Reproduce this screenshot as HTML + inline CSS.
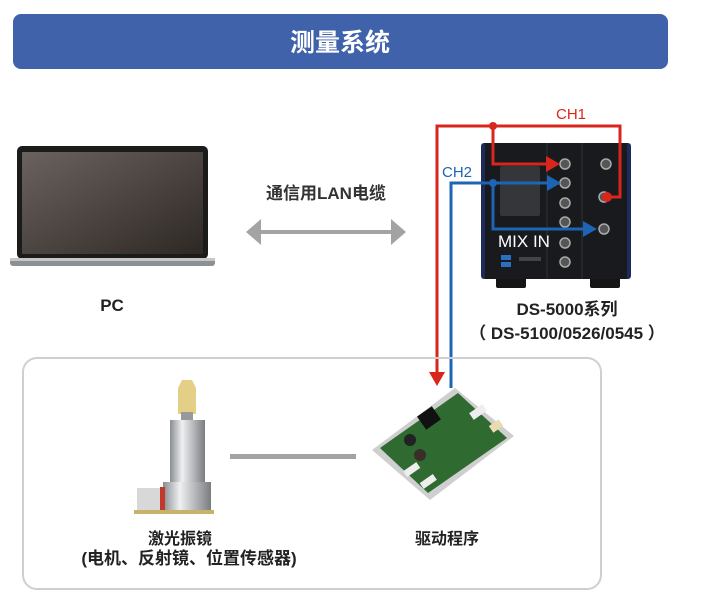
<!DOCTYPE html>
<html><head><meta charset="utf-8"><style>
body{margin:0;width:710px;height:600px;background:#fff;overflow:hidden}
svg text{font-family:"Liberation Sans","Noto Sans CJK SC",sans-serif}
</style></head><body>
<svg width="710" height="600" viewBox="0 0 710 600" xmlns="http://www.w3.org/2000/svg">
<defs>
<linearGradient id="scr" x1="0" y1="0" x2="1" y2="1"><stop offset="0" stop-color="#6a625e"/><stop offset="1" stop-color="#2e2825"/></linearGradient>
<linearGradient id="cyl" x1="0" y1="0" x2="1" y2="0"><stop offset="0" stop-color="#8a8d90"/><stop offset="0.35" stop-color="#eef0f2"/><stop offset="1" stop-color="#7a7d80"/></linearGradient>
</defs>
<rect x="13" y="14" width="655" height="55" rx="8" fill="#3f62aa"/>
<text x="340" y="51" font-size="25" font-weight="bold" fill="#fff" text-anchor="middle">测量系统</text>

<!-- laptop -->
<rect x="17" y="146" width="191" height="113" rx="5" fill="#1b1b1b"/>
<rect x="22" y="152" width="181" height="102" fill="url(#scr)"/>
<rect x="10" y="258" width="205" height="8" rx="3" fill="#8d9093"/>
<rect x="10" y="258" width="205" height="3" fill="#c4c6c8"/>
<text x="112" y="311" font-size="17" font-weight="bold" text-anchor="middle" fill="#222">PC</text>

<text x="326" y="199" font-size="17" font-weight="bold" text-anchor="middle" fill="#333">通信用LAN电缆</text>
<rect x="258" y="230" width="136" height="4" fill="#a3a3a3"/>
<polygon points="246,232 261,219 261,245" fill="#a3a3a3"/>
<polygon points="406,232 391,219 391,245" fill="#a3a3a3"/>

<!-- device -->
<rect x="496" y="276" width="30" height="12" rx="2" fill="#151515"/>
<rect x="590" y="276" width="30" height="12" rx="2" fill="#151515"/>
<rect x="481" y="143" width="150" height="136" rx="3" fill="#1e2a5a"/>
<rect x="485" y="143" width="142" height="136" fill="#181a1d"/>
<line x1="547" y1="143" x2="547" y2="279" stroke="#333" stroke-width="1"/>
<line x1="582" y1="143" x2="582" y2="279" stroke="#333" stroke-width="1"/>
<rect x="500" y="166" width="40" height="50" rx="2" fill="#34363a"/>
<rect x="501" y="255" width="10" height="5" fill="#2a6fc0"/>
<rect x="501" y="262" width="10" height="5" fill="#2a6fc0"/>
<rect x="519" y="257" width="22" height="4" fill="#444"/>
<g fill="#555" stroke="#aaa" stroke-width="1.5">
<circle cx="565" cy="164" r="5"/><circle cx="565" cy="183" r="5"/><circle cx="565" cy="203" r="5"/>
<circle cx="565" cy="222" r="5"/><circle cx="565" cy="243" r="5"/><circle cx="565" cy="262" r="5"/>
<circle cx="606" cy="164" r="5"/><circle cx="604" cy="197" r="5"/><circle cx="604" cy="229" r="5"/>
</g>
<text x="498" y="247" font-size="17" fill="#fff">MIX IN</text>

<!-- red CH1 -->
<g stroke="#d9261c" stroke-width="3" fill="none">
<polyline points="437,374 437,126 620,126 620,197 608,197"/>
<polyline points="493,126 493,164 548,164"/>
</g>
<circle cx="493" cy="126" r="4" fill="#d9261c"/>
<circle cx="607" cy="197" r="5" fill="#d9261c"/>
<polygon points="560,164 546,156 546,172" fill="#d9261c"/>
<polygon points="437,386 429,372 445,372" fill="#d9261c"/>
<text x="571" y="119" font-size="15" fill="#d9261c" text-anchor="middle">CH1</text>
<!-- blue CH2 -->
<g stroke="#1d64b4" stroke-width="3" fill="none">
<polyline points="451,388 451,183 548,183"/>
<polyline points="493,183 493,229 584,229"/>
</g>
<circle cx="493" cy="183" r="4" fill="#1d64b4"/>
<polygon points="561,183 547,175 547,191" fill="#1d64b4"/>
<polygon points="597,229 583,221 583,237" fill="#1d64b4"/>
<text x="457" y="177" font-size="15" fill="#1d64b4" text-anchor="middle">CH2</text>

<text x="567" y="315" font-size="17" font-weight="bold" text-anchor="middle" fill="#222">DS-5000系列</text>
<text x="567" y="339" font-size="17" font-weight="bold" text-anchor="middle" fill="#222">（ DS-5100/0526/0545 ）</text>

<!-- bottom box -->
<rect x="23" y="358" width="578" height="231" rx="14" fill="none" stroke="#cfcfcf" stroke-width="2"/>

<!-- galvo -->
<path d="M182,380 l10,0 l4,8 l0,26 l-18,0 l0,-26 z" fill="#e3cf85"/>
<rect x="181" y="412" width="12" height="8" fill="#999"/>
<rect x="170" y="420" width="35" height="62" fill="url(#cyl)"/>
<rect x="163" y="482" width="48" height="30" fill="url(#cyl)"/>
<rect x="137" y="488" width="24" height="24" fill="#d8d8d8"/>
<rect x="160" y="487" width="5" height="25" fill="#c0392b"/>
<rect x="134" y="510" width="80" height="4" fill="#c9b26a"/>
<rect x="230" y="454" width="126" height="5" fill="#a3a3a3"/>

<!-- driver board -->
<polygon points="372,450 455,388 514,436 430,500" fill="#cfcfcf"/>
<polygon points="380,448 458,393 507,438 428,493" fill="#2f6a30"/>
<rect x="420" y="410" width="18" height="16" fill="#111" transform="rotate(-35 429 418)"/>
<circle cx="410" cy="440" r="6" fill="#222"/><circle cx="420" cy="455" r="6" fill="#3a2e28"/>
<rect x="470" y="408" width="16" height="8" fill="#eee" transform="rotate(-35 478 412)"/>
<rect x="490" y="422" width="12" height="8" fill="#e8dcb0" transform="rotate(-35 496 426)"/>
<rect x="404" y="466" width="16" height="7" fill="#eee" transform="rotate(-35 412 470)"/>
<rect x="420" y="478" width="16" height="7" fill="#eee" transform="rotate(-35 428 481)"/>

<text x="180" y="544" font-size="16" font-weight="bold" text-anchor="middle" fill="#222">激光振镜</text>
<text x="189" y="564" font-size="17" font-weight="bold" text-anchor="middle" fill="#222">(电机、反射镜、位置传感器)</text>
<text x="447" y="544" font-size="16" font-weight="bold" text-anchor="middle" fill="#222">驱动程序</text>
</svg>
</body></html>
